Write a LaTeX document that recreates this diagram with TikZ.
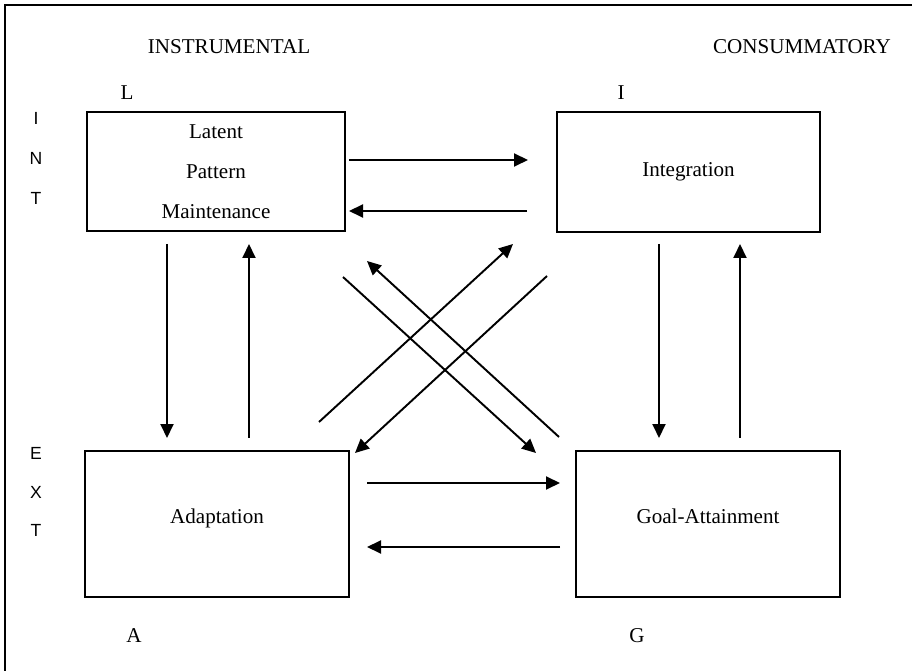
\documentclass[tikz,border=0pt]{standalone}
\usepackage{fontspec}
\setmainfont{Liberation Serif}
\newfontfamily\sidefont{Liberation Sans}
\usetikzlibrary{arrows.meta}

\begin{document}
\begin{tikzpicture}[
    x=0.02cm, y=-0.02cm,
    >={Triangle[length=0.28cm, width=0.26cm]},
    font=\fontsize{12}{14}\selectfont,
    box/.style={draw, line width=1.3pt, inner sep=0pt, align=center},
    lowbox/.style={box, minimum width=5.28cm, minimum height=2.92cm, text depth=0.32cm},
    link/.style={->, line width=1.1pt},
    side/.style={font=\sidefont\fontsize{10}{11}\selectfont}
]
    \useasboundingbox (0,0) rectangle (912,671);

    % --- Moldura ---
    \coordinate (corner) at (5,5);
    \coordinate (frameR) at (912,5);
    \coordinate (frameB) at (5,671);
    \draw[line width=1.6pt] (frameB) -- (corner) -- (frameR);

    % --- Titulos ---
    \node (instr) at (229,47) {INSTRUMENTAL};
    \node (consum) at (802,47) {CONSUMMATORY};

    % --- Letras dos cantos ---
    \node (letL) at (127,93) {L};
    \node (letI) at (621,93) {I};
    \node (letA) at (134,636) {A};
    \node (letG) at (637,636) {G};

    % --- Letras laterais ---
    \foreach \ch/\yy [count=\k] in {I/118, N/158, T/198}
        \node[side] (int\k) at (36,\yy) {\ch};
    \foreach \ch/\yy [count=\k] in {E/453, X/492, T/530}
        \node[side] (ext\k) at (36,\yy) {\ch};

    % --- Caixas ---
    \node[box, minimum width=5.16cm, minimum height=2.38cm,
          font=\fontsize{12}{22.7}\selectfont] (lpm) at (216,171.5)
          {Latent\\Pattern\\Maintenance};
    \node[box, minimum width=5.26cm, minimum height=2.4cm] (integ) at (688.5,172) {Integration};
    \node[lowbox] (adapt) at (217,524) {Adaptation};
    \node[lowbox] (goal) at (708,524) {Goal-Attainment};

    % --- Pontas das setas ---
    % linha de cima (L <-> I)
    \coordinate (li-s) at (349,160);   \coordinate (li-e) at (528,160);
    \coordinate (il-s) at (527,211);   \coordinate (il-e) at (349,211);
    % linha de baixo (A <-> G)
    \coordinate (ag-s) at (367,483);   \coordinate (ag-e) at (560,483);
    \coordinate (ga-s) at (560,547);   \coordinate (ga-e) at (367,547);
    % verticais da esquerda (L <-> A)
    \coordinate (la-s) at (167,244);   \coordinate (la-e) at (167,438);
    \coordinate (al-s) at (249,438);   \coordinate (al-e) at (249,244);
    % verticais da direita (I <-> G)
    \coordinate (ig-s) at (659,244);   \coordinate (ig-e) at (659,438);
    \coordinate (gi-s) at (740,438);   \coordinate (gi-e) at (740,244);
    % diagonais
    \coordinate (lg-s) at (343,277);   \coordinate (lg-e) at (536,453);
    \coordinate (gl-s) at (559,437);   \coordinate (gl-e) at (367,261);
    \coordinate (ai-s) at (319,422);   \coordinate (ai-e) at (513,244);
    \coordinate (ia-s) at (547,276);   \coordinate (ia-e) at (355,453);

    % --- Conexoes ---
    \draw[link] (li-s) -- (li-e);      % L -> I
    \draw[link] (il-s) -- (il-e);      % I -> L
    \draw[link] (ag-s) -- (ag-e);      % A -> G
    \draw[link] (ga-s) -- (ga-e);      % G -> A
    \draw[link] (la-s) -- (la-e);      % L -> A
    \draw[link] (al-s) -- (al-e);      % A -> L
    \draw[link] (ig-s) -- (ig-e);      % I -> G
    \draw[link] (gi-s) -- (gi-e);      % G -> I
    \draw[link] (lg-s) -- (lg-e);      % L -> G
    \draw[link] (gl-s) -- (gl-e);      % G -> L
    \draw[link] (ai-s) -- (ai-e);      % A -> I
    \draw[link] (ia-s) -- (ia-e);      % I -> A

\end{tikzpicture}
\end{document}
